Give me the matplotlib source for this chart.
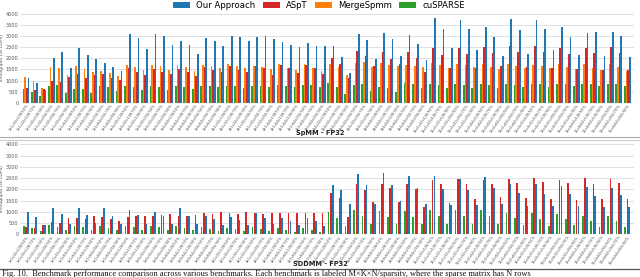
import matplotlib
matplotlib.use("Agg")
import matplotlib.pyplot as plt
from matplotlib.lines import Line2D
import numpy as np

# ---------------- data ----------------
shapes = ["1x1x32x128", "1x1x32x256", "1x1x64x128", "1x1x64x256",
          "1x4x32x128", "1x4x32x256", "1x4x64x128", "1x4x64x256",
          "4x1x32x128", "4x1x32x256", "4x1x64x128", "4x1x64x256",
          "4x4x32x128", "4x4x32x256", "4x4x64x128", "4x4x64x256",
          "16x1x32x128", "16x1x32x256", "16x1x64x128", "16x1x64x256",
          "16x4x32x128", "16x4x32x256", "16x4x64x128", "16x4x64x256"]
sparsities = ["50%", "70%", "90%"]
tick_labels = [f"{s}/{p}" for s in shapes for p in sparsities]

spmm_ours = [1130, 900, 580, 2030, 2280, 1550, 2480, 2160, 1970, 1770, 1630, 1420,
             3110, 2900, 2430, 3080, 3000, 2600, 2800, 2600, 2200, 2920, 2790, 2550,
             3000, 2980, 2780, 2980, 3020, 2860, 2720, 2600, 2510, 2710, 2560, 2560,
             2570, 2060, 1320, 3080, 2810, 1960, 3130, 2860, 2100, 3050, 2630, 1930,
             3800, 3320, 2450, 3750, 3340, 2390, 3400, 2960, 2090, 3760, 3280, 2200,
             3710, 3340, 2360, 3430, 2950, 2170, 3130, 3170, 2120, 3170, 2990, 2060]
spmm_aspt = [660, 580, 620, 970, 950, 1150, 1280, 1130, 1230, 1280, 1130, 1030,
             1580, 1380, 1250, 1520, 1380, 1290, 1520, 1380, 1200, 1610, 1470, 1400,
             1650, 1460, 1400, 1670, 1550, 1260, 1700, 1560, 1320, 1680, 1560, 1310,
             2020, 1730, 1130, 2320, 2090, 1670, 2290, 1970, 1740, 2290, 2000, 1400,
             2450, 2150, 1580, 2450, 2200, 1560, 2510, 2260, 1640, 2560, 2290, 1620,
             2560, 2270, 1580, 2470, 2210, 1500, 2470, 2240, 1470, 2530, 2240, 1490]
spmm_merge = [1170, 970, 680, 1600, 1550, 1230, 1650, 1500, 1370, 1420, 1330, 1190,
              1720, 1630, 1470, 1700, 1640, 1470, 1680, 1600, 1420, 1720, 1650, 1550,
              1730, 1670, 1550, 1670, 1600, 1500, 1740, 1560, 1470, 1730, 1560, 1430,
              1760, 1610, 1250, 1790, 1830, 1600, 1800, 1700, 1670, 1710, 1670, 1600,
              1770, 1700, 1580, 1760, 1710, 1600, 1740, 1600, 1530, 1740, 1650, 1550,
              1710, 1670, 1550, 1730, 1620, 1500, 1760, 1560, 1460, 1740, 1620, 1440]
spmm_cusparse = [630, 500, 280, 750, 780, 450, 620, 600, 440, 760, 700, 530,
                 740, 700, 580, 750, 700, 580, 740, 700, 600, 770, 750, 690,
                 770, 770, 680, 770, 750, 690, 780, 770, 710, 780, 780, 710,
                 900, 690, 410, 800, 840, 540, 690, 660, 500, 890, 840, 660,
                 840, 780, 650, 840, 800, 650, 830, 800, 660, 840, 800, 690,
                 840, 830, 690, 840, 830, 750, 840, 840, 750, 840, 840, 750]

sddmm_ours = [980, 750, 410, 1170, 900, 460, 1170, 860, 490, 1170, 810, 460,
              1100, 840, 470, 980, 830, 470, 1150, 830, 470, 810, 700, 430,
              770, 650, 410, 930, 730, 460, 730, 590, 400, 730, 590, 370,
              2180, 1950, 1360, 2660, 2190, 1330, 2710, 2180, 1480, 2590, 2060, 1330,
              2580, 2010, 1290, 2460, 1970, 1320, 2530, 2060, 1330, 2230, 1850, 1270,
              2220, 1810, 1240, 2130, 1780, 1270, 2100, 1720, 1210, 2070, 1760, 1210]
sddmm_aspt = [310, 280, 400, 530, 500, 740, 740, 680, 810, 750, 680, 590,
              770, 810, 800, 810, 840, 890, 810, 810, 840, 930, 890, 980,
              930, 900, 980, 930, 900, 930, 930, 930, 960, 930, 930, 960,
              1850, 1610, 770, 2220, 1970, 1440, 2250, 2040, 1420, 2250, 2030, 1210,
              2400, 2220, 1410, 2440, 2220, 1550, 2430, 2250, 1640, 2470, 2290, 1610,
              2500, 2320, 1570, 2410, 2260, 1540, 2490, 2250, 1550, 2470, 2280, 1550]
sddmm_cusparse = [380, 280, 150, 410, 340, 180, 380, 330, 190, 380, 300, 180,
                  380, 330, 190, 370, 310, 190, 370, 300, 190, 340, 240, 150,
                  300, 250, 130, 310, 240, 130, 270, 190, 100, 270, 180, 100,
                  1010, 730, 380, 1070, 810, 460, 1040, 770, 470, 1040, 770, 440,
                  1080, 810, 440, 1080, 810, 440, 1070, 810, 440, 960, 730, 410,
                  930, 700, 370, 900, 680, 400, 810, 580, 330, 810, 590, 340]

series_names = ["Our Approach", "ASpT", "MergeSpmm", "cuSPARSE"]
colors = {"Our Approach": "#1f77b4", "ASpT": "#d62728",
          "MergeSpmm": "#ff7f0e", "cuSPARSE": "#2ca02c"}

# ---------------- figure ----------------
W, H = 640, 277
fig = plt.figure(figsize=(W / 100, H / 100), dpi=100)

def px_box(x0, y_top, x1, y_bot):
    return [x0 / W, 1 - y_bot / H, (x1 - x0) / W, (y_bot - y_top) / H]

x = np.arange(len(tick_labels))
bw = 0.2

def style_axes(ax):
    ax.set_xlim(-0.7, len(tick_labels) - 0.2)
    ax.set_ylim(0, 4000)
    ax.set_yticks(np.arange(0, 4001, 500))
    ax.yaxis.grid(True, color="#e0e0e0", linewidth=0.7)
    ax.set_axisbelow(True)
    for s in ax.spines.values():
        s.set_visible(False)
    ax.tick_params(axis="y", length=0, labelsize=3.6, labelcolor="#555555", pad=1)
    ax.tick_params(axis="x", length=0, labelsize=2.6, labelcolor="#555555", pad=0.5)
    ax.set_xticks(x)
    ax.set_xticklabels(tick_labels, rotation=55, ha="right", rotation_mode="anchor")
    ax.set_ylabel("Throughput (GFLOPs)", fontsize=3.3, color="#555555", labelpad=1.5)

# Top: SpMM
ax1 = fig.add_axes(px_box(20, 14, 634, 102.7))
ax1.bar(x - 0.3, spmm_cusparse, bw, color=colors["cuSPARSE"], label="cuSPARSE")
ax1.bar(x - 0.1, spmm_merge, bw, color=colors["MergeSpmm"], label="MergeSpmm")
ax1.bar(x + 0.1, spmm_aspt, bw, color=colors["ASpT"], label="ASpT")
ax1.bar(x + 0.3, spmm_ours, bw, color=colors["Our Approach"], label="Our Approach")
style_axes(ax1)

# Bottom: SDDMM
ax2 = fig.add_axes(px_box(20, 144.3, 634, 234.3))
ax2.bar(x - 0.26, sddmm_cusparse, bw, color=colors["cuSPARSE"])
ax2.bar(x + 0.02, sddmm_aspt, bw, color=colors["ASpT"])
ax2.bar(x + 0.23, sddmm_ours, bw, color=colors["Our Approach"])
style_axes(ax2)

# Legend
handles, labels = ax1.get_legend_handles_labels()
order = [labels.index(n) for n in series_names]
fig.legend([handles[i] for i in order], [labels[i] for i in order],
           loc="center", bbox_to_anchor=(319 / W, 1 - 5.5 / H), ncol=4,
           frameon=False, fontsize=6.1, handlelength=2.0, handleheight=0.6,
           handletextpad=0.7, columnspacing=0.9, borderaxespad=0, borderpad=0)

# Panel titles
fig.text(320 / W, 1 - 132.5 / H, "SpMM - FP32", ha="center", va="center",
         fontsize=4.8, fontweight="bold", color="#222222")
fig.text(320 / W, 1 - 264.5 / H, "SDDMM - FP32", ha="center", va="center",
         fontsize=4.8, fontweight="bold", color="#222222")

# Separators
fig.add_artist(Line2D([0, 1], [1 - 137 / H] * 2, color="#aaaaaa", linewidth=0.8))
fig.add_artist(Line2D([0, 1], [1 - 139.5 / H] * 2, color="#cccccc", linewidth=0.8))
fig.add_artist(Line2D([0, 1], [1 - 269 / H] * 2, color="#555555", linewidth=0.9))

# Caption
fig.text(2 / W, 1 - 275.5 / H,
         "Fig. 10.  Benchmark performance comparison across various benchmarks. "
         "Each benchmark is labeled M×K×N/sparsity, where the sparse matrix has N rows",
         ha="left", va="baseline", fontsize=6.0, family="Liberation Serif",
         color="#111111")

fig.savefig("out.png", dpi=100)
